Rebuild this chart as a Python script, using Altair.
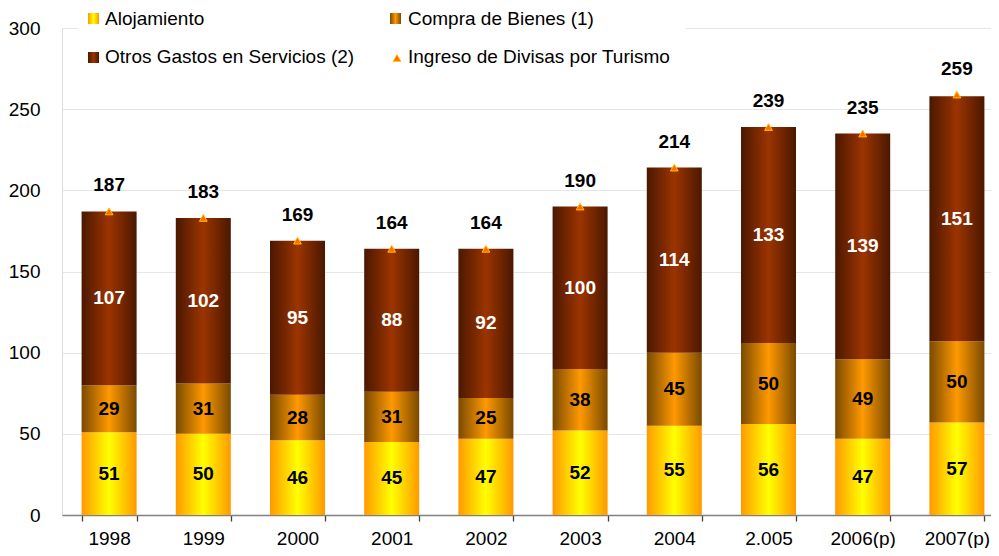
import altair as alt
import pandas as pd

years = ['1998', '1999', '2000', '2001', '2002', '2003', '2004', '2.005', '2006(p)', '2007(p)']
alojamiento = [51, 50, 46, 45, 47, 52, 55, 56, 47, 57]
compra = [29, 31, 28, 31, 25, 38, 45, 50, 49, 50]
otros = [107, 102, 95, 88, 92, 100, 114, 133, 139, 151]
total = [187, 183, 169, 164, 164, 190, 214, 239, 235, 259]

series_names = ['Alojamiento', 'Compra de Bienes (1)', 'Otros Gastos en Servicios (2)',
                'Ingreso de Divisas por Turismo']

FONT = 'Liberation Sans'


def grad(edge, center):
    return alt.LinearGradient(
        gradient='linear', x1=0, x2=1, y1=0, y2=0,
        stops=[alt.GradientStop(color=edge, offset=0),
               alt.GradientStop(color=center, offset=0.5),
               alt.GradientStop(color=edge, offset=1)])


g_aloj = grad('#ff9900', '#ffff00')
g_comp = grad('#7a4a00', '#ff9900')
g_otro = grad('#4a1800', '#9c3400')

rows = []
for i, y in enumerate(years):
    b0 = 0
    b1 = alojamiento[i]
    b2 = b1 + compra[i]
    b3 = b2 + otros[i]
    rows.append(dict(year=y, a0=b0, a1=b1, c0=b1, c1=b2, o0=b2, o1=b3,
                     av=alojamiento[i], cv=compra[i], ov=otros[i], tot=total[i],
                     am=(b0 + b1) / 2, cm=(b1 + b2) / 2, om=(b2 + b3) / 2))
df = pd.DataFrame(rows)

xenc = alt.X('year:N', sort=years, title=None,
             scale=alt.Scale(paddingInner=0.416, paddingOuter=0.208, range=[0, 942]),
             axis=alt.Axis(labelAngle=0, labelFontSize=19, labelFont=FONT, labelColor='#000000',
                           domainColor='#808080', domainWidth=1.6, tickColor='#404040',
                           tickSize=6, tickWidth=1.3, tickBand='extent', labelPadding=8,
                           grid=False))
yscale = alt.Scale(domain=[0, 300], nice=False)
yaxis = alt.Axis(values=[0, 50, 100, 150, 200, 250, 300], domain=False, ticks=False,
                 grid=True, gridColor='#e6e6e6', labelFontSize=19, labelFont=FONT,
                 labelColor='#000000', labelPadding=22)

base = alt.Chart(df).encode(x=xenc)

bar_a = base.mark_bar(color=g_aloj).encode(y=alt.Y('a0:Q', scale=yscale, axis=yaxis, title=None), y2='a1:Q')
bar_c = base.mark_bar(color=g_comp).encode(y=alt.Y('c0:Q', scale=yscale), y2='c1:Q')
bar_o = base.mark_bar(color=g_otro).encode(y=alt.Y('o0:Q', scale=yscale), y2='o1:Q')

LBL = dict(font=FONT, fontSize=19, fontWeight='bold', baseline='middle')
txt_a = base.mark_text(color='#000000', **LBL).encode(y=alt.Y('am:Q', scale=yscale), text='av:Q')
txt_c = base.mark_text(color='#000000', **LBL).encode(y=alt.Y('cm:Q', scale=yscale), text='cv:Q')
txt_o = base.mark_text(color='#ffffff', **LBL).encode(y=alt.Y('om:Q', scale=yscale), text='ov:Q')

tri = base.mark_point(shape='triangle-up', size=60, filled=True, fill='#ff6a00', stroke='#ffc000',
                      strokeWidth=1, opacity=1).encode(y=alt.Y('tot:Q', scale=yscale))
txt_t = base.mark_text(color='#000000', dy=-26, **LBL).encode(
    y=alt.Y('tot:Q', scale=yscale), text='tot:Q')

# legend
one = pd.DataFrame({'k': [0]})
leg_bg = alt.Chart(one).mark_rect(fill='#ffffff').encode(
    x=alt.value(16), x2=alt.value(624), y=alt.value(-26), y2=alt.value(45))


def leg_sq(g, px, py):
    return alt.Chart(one).mark_rect(color=g).encode(
        x=alt.value(px), x2=alt.value(px + 11), y=alt.value(py), y2=alt.value(py + 11))


def leg_txt(t, px, py):
    return alt.Chart(pd.DataFrame({'t': [t]})).mark_text(
        font=FONT, fontSize=19, align='left', baseline='middle', color='#000000').encode(
        x=alt.value(px), y=alt.value(py), text='t:N')


leg = [
    leg_bg,
    leg_sq(g_aloj, 26, -15), leg_txt(series_names[0], 43, -9.5),
    leg_sq(g_comp, 328, -15), leg_txt(series_names[1], 346, -9.5),
    leg_sq(g_otro, 26, 24), leg_txt(series_names[2], 43, 29),
    alt.Chart(one).mark_point(shape='triangle-up', size=60, filled=True, fill='#ff6a00',
                              stroke='#ffc000', strokeWidth=1, opacity=1).encode(
        x=alt.value(335), y=alt.value(30)),
    leg_txt(series_names[3], 346, 29),
]

chart = alt.layer(bar_a, bar_c, bar_o, txt_a, txt_c, txt_o, tri, txt_t, *leg).properties(
    width=929, height=487,
    autosize=alt.AutoSizeParams(type='none'),
    padding={'left': 54, 'top': 20, 'right': 0, 'bottom': 33},
).configure_view(stroke=None).configure(background='#ffffff')

chart.save('out.html', embed_options={'renderer': 'svg', 'actions': False})
